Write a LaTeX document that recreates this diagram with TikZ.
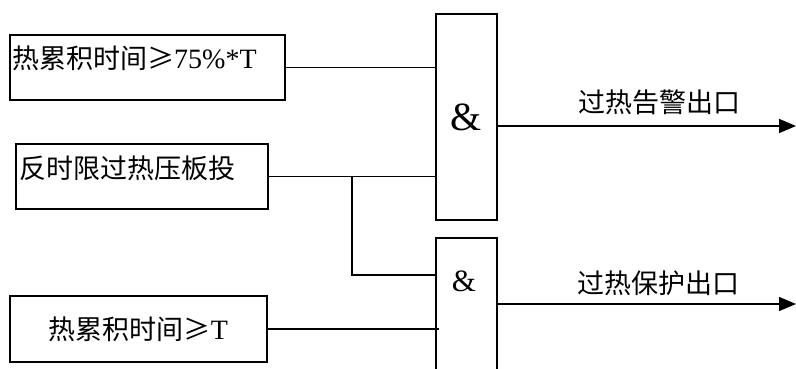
\documentclass[tikz,border=0pt]{standalone}
\usepackage{fontspec}
\setmainfont{Liberation Serif}
\newfontfamily\cjk{Noto Sans CJK SC}
\usetikzlibrary{arrows.meta}

\begin{document}
\begin{tikzpicture}
  [x=1pt, y=-1pt,
    InBox/.style={rectangle, draw, line width=1.8pt, inner sep=0pt},
    AndGate/.style={rectangle, draw, line width=1.8pt, minimum width=61pt, inner sep=0pt},
    Wire/.style={line width=1.6pt},
    OutWire/.style={line width=1.6pt, -{Triangle[length=17pt,width=14pt]}},
    BoxText/.style={inner sep=0pt, font=\fontsize{27}{27}\selectfont},
    OutText/.style={inner sep=0pt, font=\cjk\fontsize{27}{27}\selectfont}]
    \clip (0,0) rectangle (796,368);
    \node [InBox, minimum width=275pt, minimum height=65pt] (heat75) at (147.5,67.5) {};
    \node [BoxText, anchor=west] (heat75txt) at (12,58) {{\cjk 热累积时间≥}\fontsize{28}{28}\selectfont 75\%*T};
    \node [InBox, minimum width=252pt, minimum height=65pt] (plate) at (142,176.5) {};
    \node [BoxText, anchor=west] (platetxt) at (19,168) {\cjk 反时限过热压板投};
    \node [InBox, BoxText, draw, minimum width=257pt, minimum height=66pt] (heatT) at (138.5,329) {{\cjk 热累积时间≥}\fontsize{28}{28}\selectfont T};
    \node [AndGate, minimum height=206pt, font=\fontsize{40}{40}\selectfont] (gate1) at (466.5,117) {\&};
    \node [AndGate, minimum height=142pt] (gate2) at (466.5,309) {};
    \node [BoxText, font=\fontsize{31}{31}\selectfont] (gate2sym) at (464,281) {\&};
    \coordinate (split) at (352,176.5);
    \coordinate (in2a) at (436,275);
    \coordinate (out1) at (796,126);
    \coordinate (out2) at (796,304);
    \draw [Wire] (heat75.east) -- (heat75.east -| gate1.west);
    \draw [Wire] (plate.east) -- (plate.east -| gate1.west);
    \draw [Wire] (split) |- (in2a);
    \draw [Wire] (heatT.east) -- ([xshift=4pt]heatT.east -| gate2.west);
    \draw [OutWire] (gate1.east |- out1) -- (out1);
    \draw [OutWire] (gate2.east |- out2) -- (out2);
    \node [OutText] (warn) at (659,102) {过热告警出口};
    \node [OutText] (prot) at (658,283) {过热保护出口};
\end{tikzpicture}
\end{document}
